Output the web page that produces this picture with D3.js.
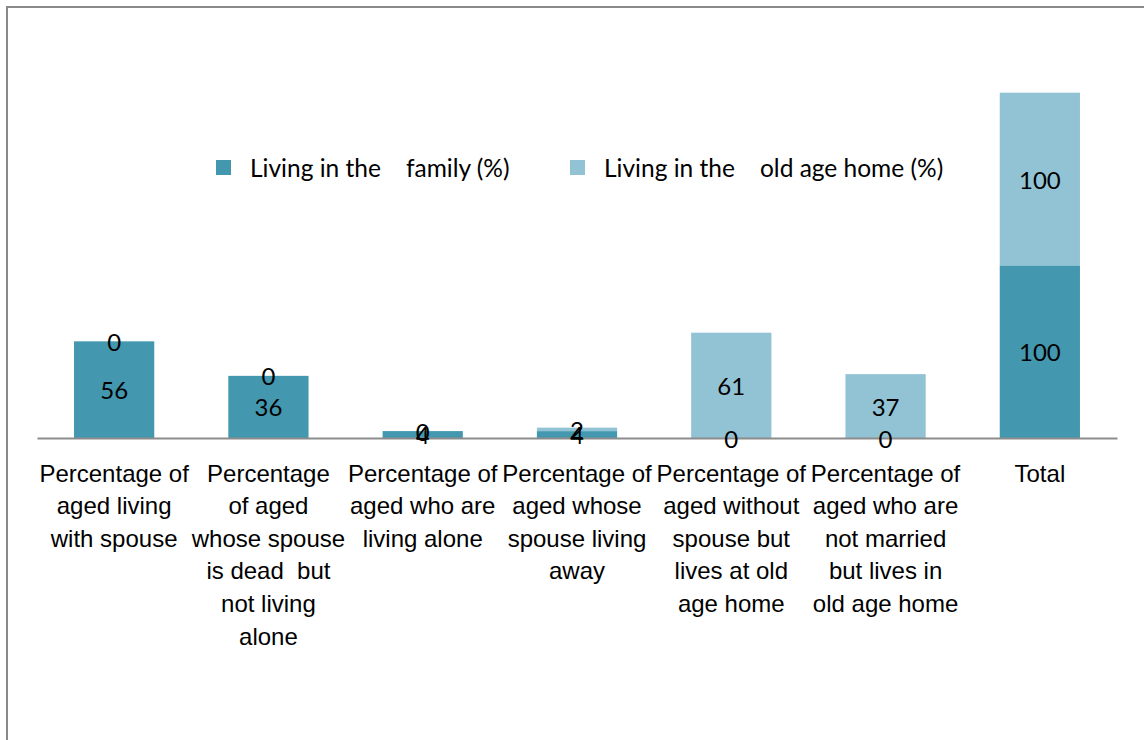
<!DOCTYPE html>
<html>
<head>
<meta charset="utf-8">
<script src="https://cdn.jsdelivr.net/npm/d3@7"></script>
<style>
  body { margin: 0; background: #fff; }
  svg { display: block; font-family: Lato, "Open Sans", sans-serif; }
</style>
</head>
<body>
<svg width="1144" height="740"></svg>
<script>
// category labels, already broken into lines as in the original
const categories = [
  ['Percentage of', 'aged living', 'with spouse'],
  ['Percentage', 'of aged', 'whose spouse', 'is dead  but', 'not living', 'alone'],
  ['Percentage of', 'aged who are', 'living alone'],
  ['Percentage of', 'aged whose', 'spouse living', 'away'],
  ['Percentage of', 'aged without', 'spouse but', 'lives at old', 'age home'],
  ['Percentage of', 'aged who are', 'not married', 'but lives in', 'old age home'],
  ['Total']
]
const familyValues = [56, 36, 4, 4, 0, 0, 100]
const homeValues = [0, 0, 0, 2, 61, 37, 100]
const seriesNames = ['Living in the    family (%)', 'Living in the    old age home (%)']
const colors = ['#4398b0', '#92c3d5']

const svg = d3.select('svg')

// outer frame (right/bottom edges fall outside the picture)
svg.append('rect')
  .attr('x', 7).attr('y', 7)
  .attr('width', 1160).attr('height', 760)
  .attr('fill', 'none')
  .attr('stroke', '#8a8a8a')
  .attr('stroke-width', 2)

const rows = categories.map((c, i) => ({
  key: i,
  family: familyValues[i],
  home: homeValues[i]
}))

const xScale = d3.scaleBand()
  .domain(rows.map(d => d.key))
  .range([37, 1117])
  .paddingInner(0.48)
  .paddingOuter(0.24)

const yScale = d3.scaleLinear()
  .domain([0, 200])
  .range([438, 92.7])

const stack = d3.stack().keys(['family', 'home'])
const stacked = stack(rows)

const groups = svg.append('g').selectAll('g')
  .data(stacked)
  .enter()
  .append('g')
  .attr('fill', (d, i) => colors[i])

groups.selectAll('rect')
  .data(d => d)
  .enter()
  .append('rect')
  .attr('x', d => xScale(d.data.key))
  .attr('width', xScale.bandwidth())
  .attr('y', d => yScale(d[1]))
  .attr('height', d => yScale(d[0]) - yScale(d[1]))

// x axis
const xAxis = svg.append('g')
  .attr('transform', 'translate(0,438)')
  .call(d3.axisBottom(xScale).tickSize(0).tickSizeOuter(0).tickFormat(''))
xAxis.select('.domain').attr('stroke', '#8c8c8c').attr('stroke-width', 2)

xAxis.selectAll('.tick text').remove()
xAxis.selectAll('.tick').each(function (k) {
  const t = d3.select(this).append('text')
    .attr('fill', '#000')
    .attr('font-size', 24)
    .attr('text-anchor', 'middle')
    .style('white-space', 'pre')
  categories[k].forEach((line, j) => {
    t.append('tspan')
      .attr('x', 0)
      .attr('y', 35 + j * 32.6)
      .attr('dominant-baseline', 'central')
      .text(line)
  })
})

// value labels, home series first then family (family drawn on top like the original)
const labels = svg.append('g')
  .attr('font-size', 24)
  .attr('text-anchor', 'middle')
  .attr('fill', '#000')
;[stacked[1], stacked[0]].forEach(s => {
  labels.selectAll(null)
    .data(s)
    .enter()
    .append('text')
    .attr('x', d => xScale(d.data.key) + xScale.bandwidth() / 2)
    .attr('y', d => (yScale(d[0]) + yScale(d[1])) / 2)
    .attr('dominant-baseline', 'central')
    .text(d => d[1] - d[0])
})

// legend
const legendX = [216, 570]
const legend = svg.append('g')
  .selectAll('g')
  .data(seriesNames)
  .enter()
  .append('g')
  .attr('transform', (d, i) => `translate(${legendX[i]},160)`)
legend.append('rect')
  .attr('width', 15).attr('height', 15)
  .attr('fill', (d, i) => colors[i])
legend.append('text')
  .attr('x', 34).attr('y', 7.5)
  .attr('dominant-baseline', 'central')
  .attr('font-size', 24.5)
  .style('white-space', 'pre')
  .text(d => d)
</script>
</body>
</html>
